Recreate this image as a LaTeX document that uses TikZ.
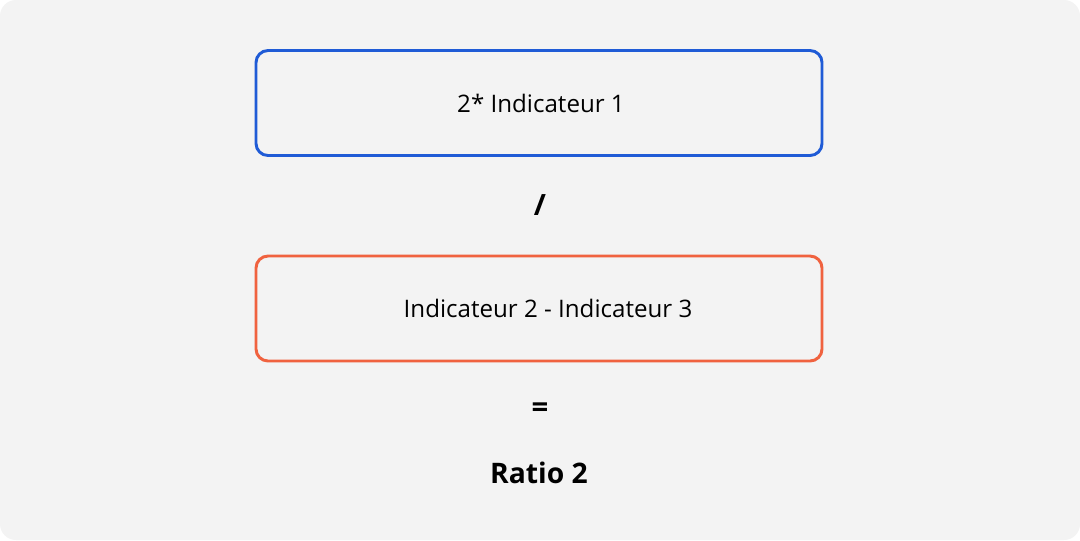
\documentclass[tikz,border=0pt]{standalone}
\usepackage{fontspec}
\setmainfont{Open Sans}
\definecolor{bg}{HTML}{F3F3F3}
\definecolor{bluebox}{HTML}{1F5BD6}
\definecolor{orangebox}{HTML}{F0623F}
\begin{document}
\begin{tikzpicture}[x=0.75pt,y=-0.75pt,
  box/.style={draw, line width=2.2pt, rounded corners=9pt, minimum width=566*0.75pt, minimum height=105*0.75pt, inner sep=0pt, font=\fontsize{18.1}{21}\selectfont},
  lbl/.style={inner sep=0pt}]
\useasboundingbox (0,0) rectangle (1080,540);
\fill[white] (0,0) rectangle (1080,540);
\fill[bg, rounded corners=12pt] (0,0) rectangle (1080,540);
\node[box, draw=bluebox] (b1) at (539,103) {\hspace*{3pt}2* Indicateur 1};
\node[box, draw=orangebox] (b2) at (539,308.5) {\hspace*{13.5pt}Indicateur 2 - Indicateur 3};
\node[lbl, font=\fontsize{22}{26}\selectfont\bfseries] (div) at (540,205) {/};
\node[lbl, font=\fontsize{22}{26}\selectfont\bfseries] (eq) at (540,410) {=};
\node[lbl, font=\fontsize{21.2}{25}\selectfont\bfseries] (res) at (539,473) {Ratio 2};
\end{tikzpicture}
\end{document}
